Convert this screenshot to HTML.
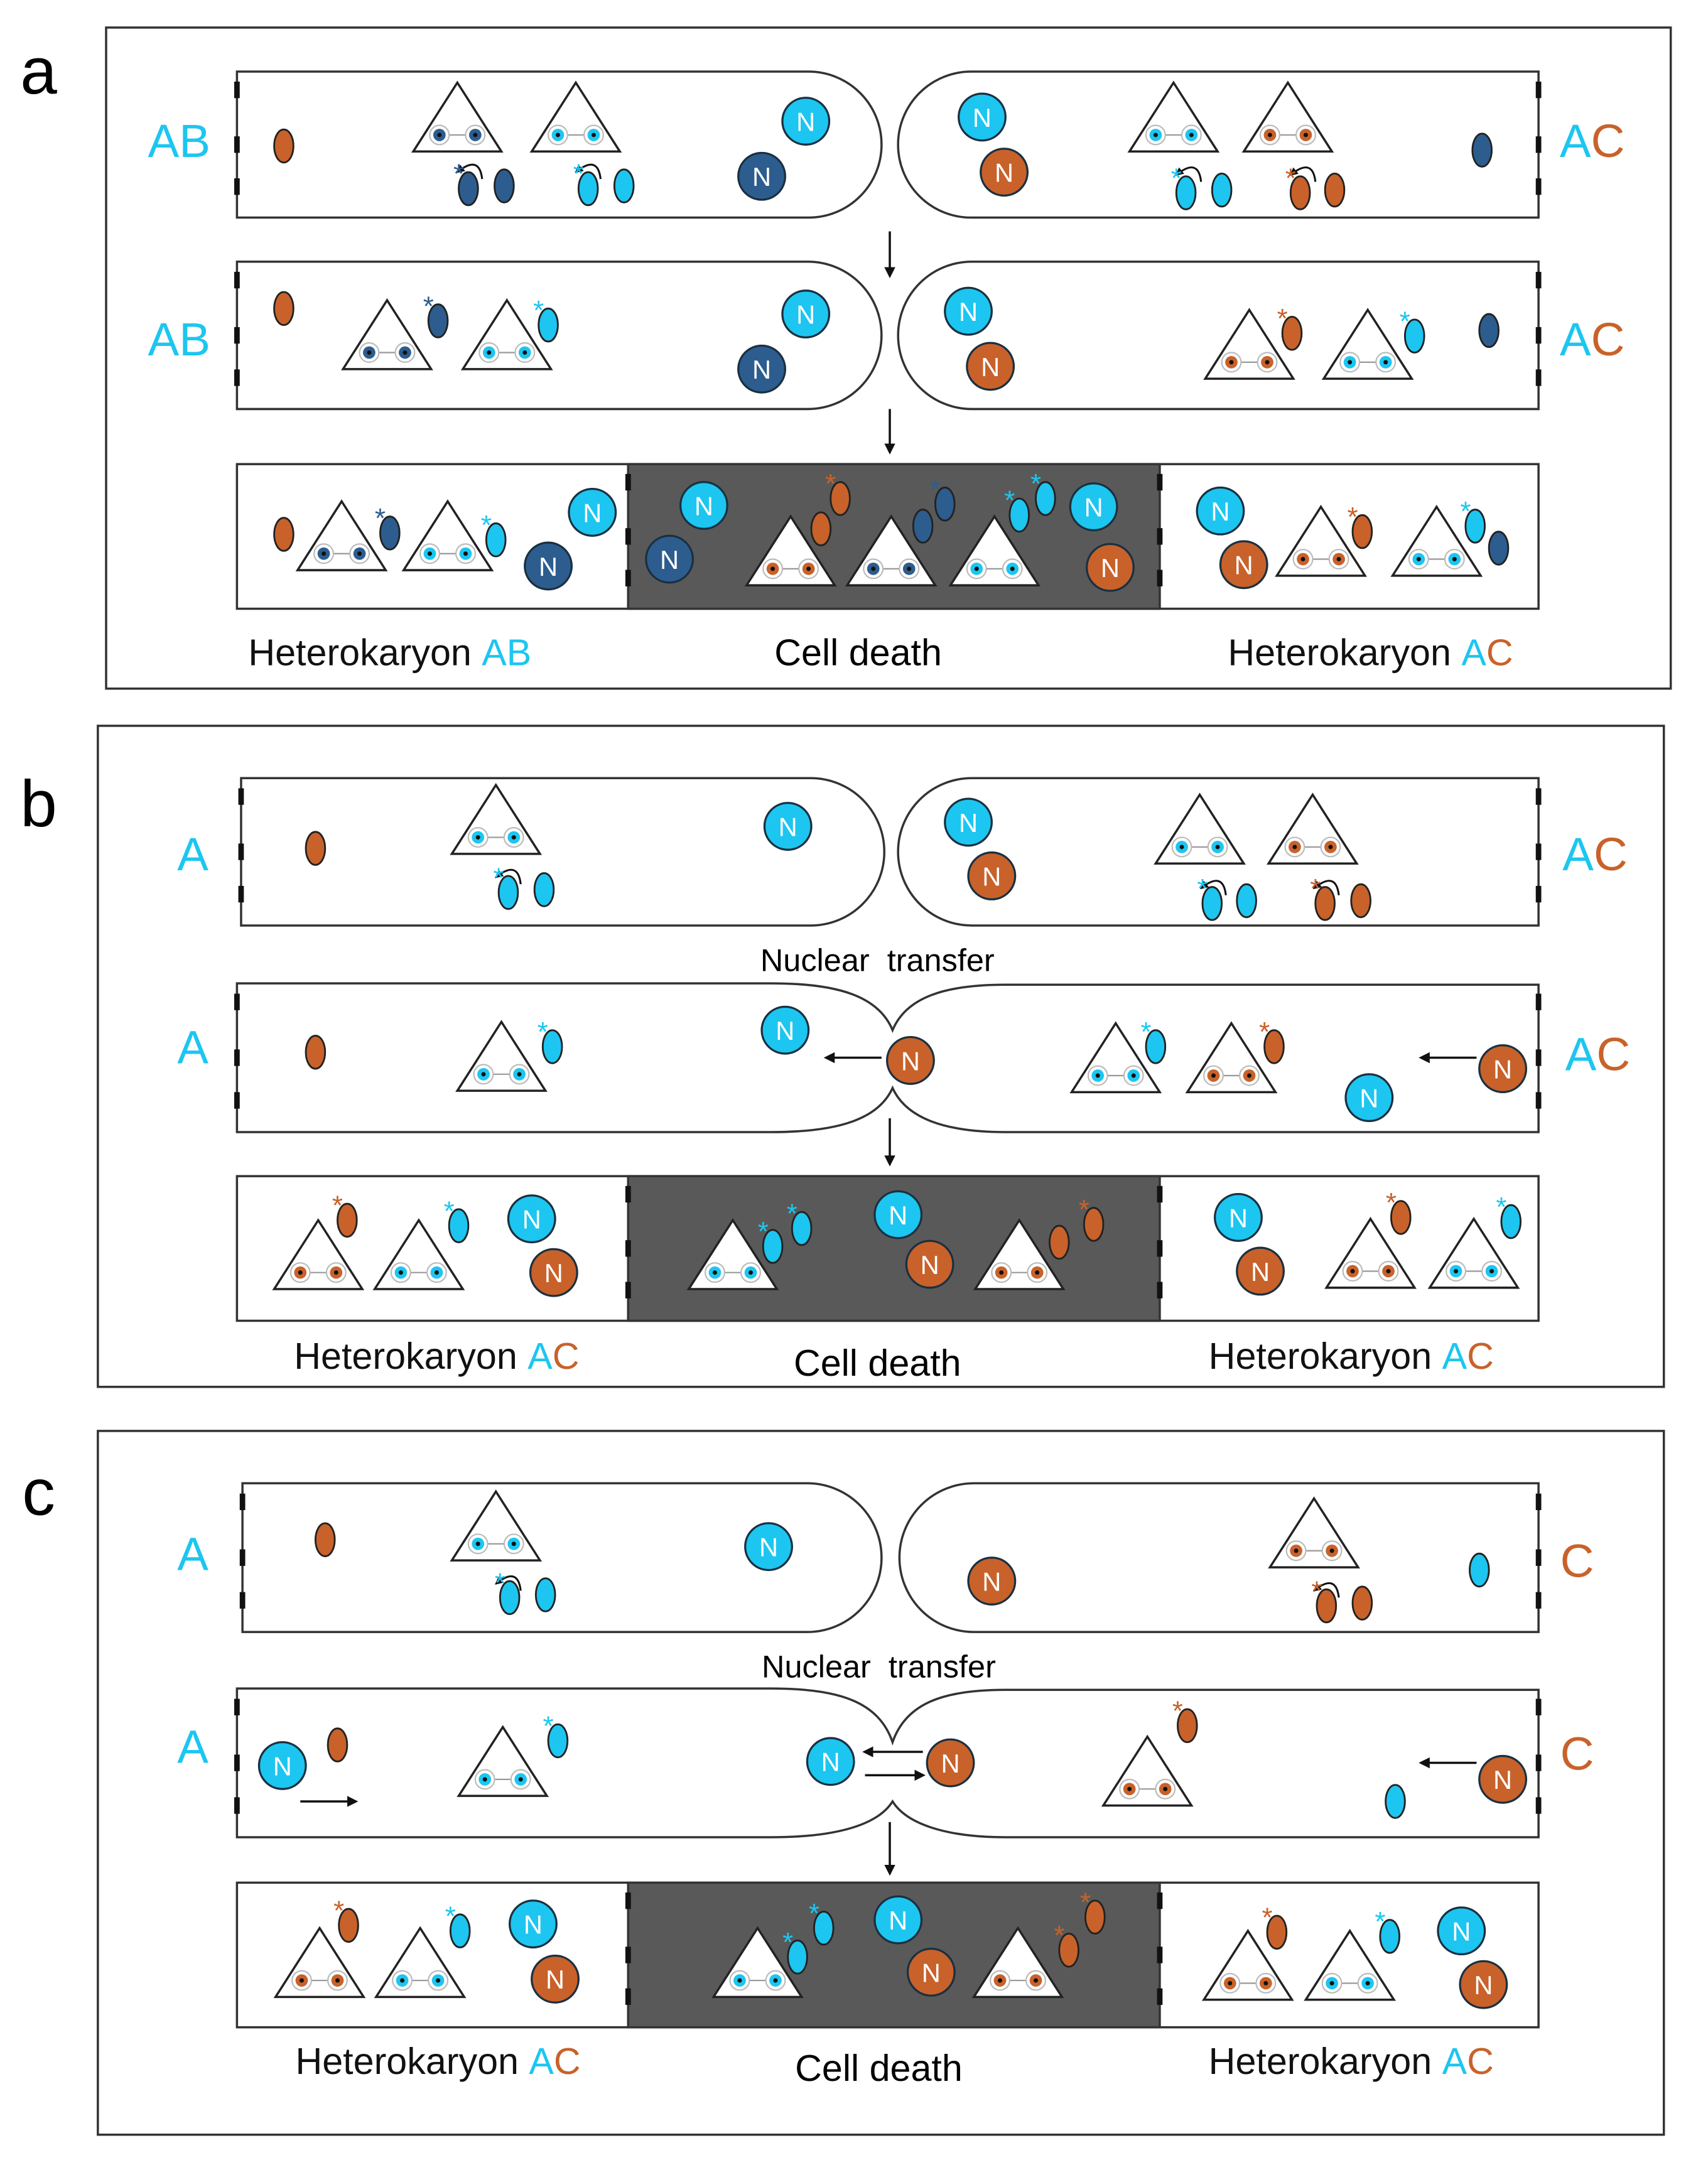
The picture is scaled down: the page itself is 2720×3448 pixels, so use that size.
<!DOCTYPE html>
<html><head><meta charset="utf-8">
<style>html,body{margin:0;padding:0;background:#fff}svg{display:block}</style>
</head><body>
<svg id="s" xmlns="http://www.w3.org/2000/svg" width="2720" height="3448" viewBox="0 0 1240 1572" font-family="Liberation Sans, sans-serif">
<defs><marker id="ah" markerWidth="8" markerHeight="8" refX="6" refY="4" orient="auto" markerUnits="userSpaceOnUse"><path d="M0,0 L8,4 L0,8 Z" fill="#111"/></marker>
<marker id="ah2" markerWidth="6" markerHeight="6" refX="5" refY="3" orient="auto" markerUnits="userSpaceOnUse"><path d="M0,0 L6,3 L0,6 Z" fill="#111"/></marker></defs>
</svg>
<script>
const C={c:'#1cc6f0',d:'#2d5d8f',o:'#c8622a'};
const s=document.getElementById('s');let h='';
function N(x,y,c){h+=`<circle cx="${x}" cy="${y}" r="17" fill="${C[c]}" stroke="#1a3040" stroke-width="1.5"/><text x="${x}" y="${y+7}" font-size="19" fill="#fff" text-anchor="middle">N</text>`;}
function O(x,y,c,st){h+=`<ellipse cx="${x}" cy="${y}" rx="7" ry="12" fill="${C[c]}" stroke="#222" stroke-width="1.3"/>`;if(st)h+=`<text x="${x-7}" y="${y-4}" font-size="20" fill="${C[c]}" text-anchor="middle">*</text>`;}
function T(x,y,c){h+=`<path d="M${x},${y-50} L${x+32},${y} L${x-32},${y} Z" fill="#fff" stroke="#222" stroke-width="1.6"/><line x1="${x-13}" y1="${y-12}" x2="${x+13}" y2="${y-12}" stroke="#999" stroke-width="1"/>`;for(const dx of[-13,13])h+=`<circle cx="${x+dx}" cy="${y-12}" r="7" fill="#fff" stroke="#bbb" stroke-width="1"/><circle cx="${x+dx}" cy="${y-12}" r="4.5" fill="${C[c]}"/><circle cx="${x+dx}" cy="${y-12}" r="1.6" fill="#111"/>`;}
function CA(x,y){h+=`<path d="M${x+14},${y+20} Q${x+12},${y+2} ${x-4},${y+15}" fill="none" stroke="#111" stroke-width="1.4" marker-end="url(#ah2)"/>`;}
function A(x1,y1,x2,y2){h+=`<line x1="${x1}" y1="${y1}" x2="${x2}" y2="${y2}" stroke="#111" stroke-width="1.6" marker-end="url(#ah)"/>`;}
function Tx(x,y,t,fs,anc){h+=`<text x="${x}" y="${y}" font-size="${fs}" text-anchor="${anc||'middle'}">${t}</text>`;}
function dash(x,y0,y1){const m=(y0+y1)/2;for(const y of[y0+(m-y0)*0.25,m,y1-(y1-y0)*0.25+4])h+=`<rect x="${x-2}" y="${y-6}" width="4" height="12" fill="#111"/>`;}
function cells(lx0,lx1,rx0,rx1,y0,y1){const r=(y1-y0)/2;
h+=`<path d="M${lx0},${y0} H${lx1-r} A${r},${r} 0 0 1 ${lx1-r},${y1} H${lx0} Z" fill="#fff" stroke="#333" stroke-width="1.6"/>`;
h+=`<path d="M${rx1},${y0} H${rx0+r} A${r},${r} 0 0 0 ${rx0+r},${y1} H${rx1} Z" fill="#fff" stroke="#333" stroke-width="1.6"/>`;dash(lx0,y0,y1);dash(rx1,y0,y1);}
function pinch(x0,x1,y0,y1,pt,pb){h+=`<path d="M${x0},${y0} H560 C610,${y0} 638,${y0+10} 648,${pt} C658,${y0+10} 686,${y0+1} 730,${y0+1} H${x1} V${y1} H730 C686,${y1} 658,${y1-10} 648,${pb} C638,${y1-10} 610,${y1} 560,${y1} H${x0} Z" fill="#fff" stroke="#333" stroke-width="1.6"/>`;dash(x0,y0,y1);dash(x1,y0,y1);}
function fused(x0,x1,y0,y1){h+=`<rect x="${x0}" y="${y0}" width="${x1-x0}" height="${y1-y0}" fill="#fff" stroke="#333" stroke-width="1.6"/><rect x="456" y="${y0}" width="386" height="${y1-y0}" fill="#595959" stroke="#333" stroke-width="1.6"/>`;dash(456,y0,y1);dash(842,y0,y1);}
function lab(x,y,parts,fs){h+=`<text x="${x}" y="${y}" font-size="${fs}" text-anchor="middle">`+parts.map(p=>`<tspan fill="${p[1]}">${p[0]}</tspan>`).join('')+`</text>`;}
const k='#111',cy=C.c,dd=C.d,oo=C.o;
h+=`<rect x="77" y="20" width="1136" height="480" fill="none" stroke="#333" stroke-width="1.6"/>`;
h+=`<rect x="71" y="527" width="1137" height="480" fill="none" stroke="#333" stroke-width="1.6"/>`;
h+=`<rect x="71" y="1039" width="1137" height="511" fill="none" stroke="#333" stroke-width="1.6"/>`;
Tx(28,68,'a',48);Tx(28,600,'b',48);Tx(28,1100,'c',48);
cells(172,640,652,1117,52,158);
lab(130,114,[['A',cy],['B',cy]],34);lab(1156,114,[['A',cy],['C',oo]],34);
O(206,106,'o');T(332,110,'d');T(418,110,'c');CA(336,110);CA(422,110);O(340,137,'d',1);O(366,135,'d');O(427,137,'c',1);O(453,135,'c');N(585,88,'c');N(553,128,'d');
N(713,85,'c');N(729,125,'o');T(852,110,'c');T(935,110,'o');CA(858,112);CA(941,112);O(861,140,'c',1);O(887,138,'c');O(944,140,'o',1);O(969,138,'o');O(1076,109,'d');
A(646,168,646,200);
cells(172,640,652,1117,190,297);
lab(130,258,[['A',cy],['B',cy]],34);lab(1156,258,[['A',cy],['C',oo]],34);
O(206,224,'o');T(281,268,'d');O(318,233,'d',1);T(368,268,'c');O(398,236,'c',1);N(585,228,'c');N(553,268,'d');
N(703,226,'c');N(719,266,'o');T(907,275,'o');O(938,242,'o',1);T(993,275,'c');O(1027,244,'c',1);O(1081,240,'d');
A(646,297,646,328);
fused(172,1117,337,442);
O(206,388,'o');T(248,414,'d');O(283,387,'d',1);T(325,414,'c');O(360,392,'c',1);N(430,372,'c');N(398,411,'d');
N(511,367,'c');N(486,406,'d');T(574,425,'o');T(647,425,'d');T(722,425,'c');O(596,384,'o');O(610,362,'o',1);O(670,382,'d');O(686,366,'d',1);O(740,374,'c',1);O(759,362,'c',1);N(794,368,'c');N(806,412,'o');
N(886,371,'c');N(903,410,'o');T(959,418,'o');O(989,386,'o',1);T(1043,418,'c');O(1071,382,'c',1);O(1088,398,'d');
lab(283,483,[['Heterokaryon ',k],['AB',cy]],27);Tx(623,483,'Cell death',27);lab(995,483,[['Heterokaryon ',k],['A',cy],['C',oo]],27);
cells(175,642,652,1117,565,672);
Tx(140,632,'<tspan fill="'+cy+'">A</tspan>',34);lab(1158,632,[['A',cy],['C',oo]],34);
O(229,616,'o');T(360,620,'c');CA(364,622);O(369,648,'c',1);O(395,646,'c');N(572,600,'c');
N(703,597,'c');N(720,636,'o');T(871,627,'c');T(953,627,'o');CA(876,630);CA(958,630);O(880,656,'c',1);O(905,654,'c');O(962,656,'o',1);O(988,654,'o');
Tx(637,705,'Nuclear&#160; transfer',23);
pinch(172,1117,714,822,748,790);
Tx(140,772,'<tspan fill="'+cy+'">A</tspan>',34);lab(1160,777,[['A',cy],['C',oo]],34);
O(229,764,'o');T(364,792,'c');O(401,760,'c',1);N(570,748,'c');A(640,768,600,768);N(661,770,'o');
T(810,793,'c');O(839,760,'c',1);T(894,793,'o');O(925,760,'o',1);A(1072,768,1032,768);N(1091,776,'o');N(994,797,'c');
A(646,812,646,845);
fused(172,1117,854,959);
T(231,936,'o');O(252,886,'o',1);T(304,936,'c');O(333,890,'c',1);N(386,885,'c');N(402,924,'o');
T(532,936,'c');O(561,905,'c',1);O(582,892,'c',1);N(652,882,'c');N(675,918,'o');T(740,936,'o');O(769,902,'o');O(794,889,'o',1);
N(899,884,'c');N(915,923,'o');T(995,935,'o');O(1017,884,'o',1);T(1070,935,'c');O(1097,887,'c',1);
lab(317,994,[['Heterokaryon ',k],['A',cy],['C',oo]],27);Tx(637,999,'Cell death',27);lab(981,994,[['Heterokaryon ',k],['A',cy],['C',oo]],27);
cells(176,640,653,1117,1077,1185);
Tx(140,1140,'<tspan fill="'+cy+'">A</tspan>',34);Tx(1145,1145,'<tspan fill="'+oo+'">C</tspan>',34);
O(236,1118,'o');T(360,1133,'c');CA(364,1135);O(370,1160,'c',1);O(396,1158,'c');N(558,1123,'c');
N(720,1148,'o');T(954,1138,'o');CA(958,1140);O(963,1166,'o',1);O(989,1164,'o');O(1074,1140,'c');
Tx(638,1218,'Nuclear&#160; transfer',23);
pinch(172,1117,1226,1334,1265,1308);
Tx(140,1280,'<tspan fill="'+cy+'">A</tspan>',34);Tx(1145,1285,'<tspan fill="'+oo+'">C</tspan>',34);
N(205,1282,'c');A(218,1308,258,1308);O(245,1267,'o');T(365,1304,'c');O(405,1264,'c',1);
N(603,1279,'c');A(670,1272,628,1272);A(628,1289,670,1289);N(690,1280,'o');
O(862,1253,'o',1);T(833,1311,'o');O(1013,1308,'c');A(1072,1280,1032,1280);N(1091,1292,'o');
A(646,1323,646,1360);
fused(172,1117,1367,1472);
T(232,1450,'o');O(253,1398,'o',1);T(305,1450,'c');O(334,1402,'c',1);N(387,1397,'c');N(403,1437,'o');
T(550,1450,'c');O(579,1421,'c',1);O(598,1400,'c',1);N(652,1394,'c');N(676,1432,'o');T(739,1450,'o');O(776,1416,'o',1);O(795,1392,'o',1);
T(906,1452,'o');O(927,1403,'o',1);T(980,1452,'c');O(1009,1406,'c',1);N(1061,1402,'c');N(1077,1441,'o');
lab(318,1506,[['Heterokaryon ',k],['A',cy],['C',oo]],27);Tx(638,1511,'Cell death',27);lab(981,1506,[['Heterokaryon ',k],['A',cy],['C',oo]],27);
s.insertAdjacentHTML('beforeend',h);
</script>
</body></html>
